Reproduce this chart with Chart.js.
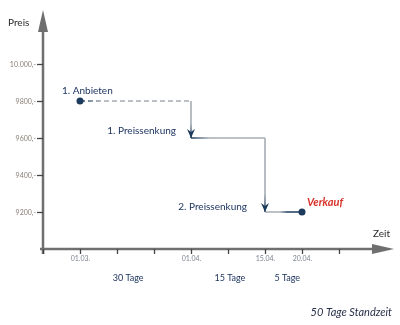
<!DOCTYPE html>
<html>
<head>
<meta charset="utf-8">
<script src="https://cdn.jsdelivr.net/npm/chart.js@4/dist/chart.umd.min.js"></script>
<style>
  html, body { margin: 0; padding: 0; background: #fff; }
  #wrap { width: 400px; height: 325px; }
</style>
</head>
<body>
<div id="wrap"><canvas id="priceChart" width="400" height="325"></canvas></div>
<script>
// Price path: offer, two price cuts, sale
const stepX = [1, 4, 4, 6, 6, 7];
const stepPrice = [9800, 9800, 9600, 9600, 9200, 9200];

const priceTicks = [9200, 9400, 9600, 9800, 10000];
const priceTickLabels = ['9200,-', '9400,-', '9600,-', '9800,-', '10.000,-'];

const timeTicks = [0, 1, 2, 3, 4, 5, 6, 7, 8];
const timeTickLabels = ['', '01.03.', '', '', '01.04.', '', '15.04.', '20.04.', ''];

const spanLabels = ['30 Tage', '15 Tage', '5 Tage'];
const spanPos = [2.3, 5.05, 6.6];

const NAVY = '#1b3a5c';
const GREY = '#a6adb5';
const AXIS = '#6f6f6f';
const FONT = 'Lato, "Open Sans", sans-serif';

// colour fade along each segment: [offset, colour]
const segStops = [
  [[0, NAVY], [0.2, GREY], [1, GREY]],
  [[0, GREY], [0.6, GREY], [1, NAVY]],
  [[0, NAVY], [0.25, GREY], [1, GREY]],
  [[0, GREY], [0.75, GREY], [1, NAVY]],
  [[0, GREY], [0.4, GREY], [0.6, NAVY], [1, NAVY]]
];

const canvas = document.getElementById('priceChart');
const c2d = canvas.getContext('2d');

function segGradient(ctx) {
  const p0 = ctx.p0, p1 = ctx.p1;
  const g = c2d.createLinearGradient(p0.x, p0.y, p1.x, p1.y);
  (segStops[ctx.p0DataIndex] || [[0, GREY], [1, GREY]]).forEach(s => g.addColorStop(s[0], s[1]));
  return g;
}

function downArrow(ctx, x, y) {
  ctx.save();
  ctx.fillStyle = NAVY;
  ctx.beginPath();
  ctx.moveTo(x, y);
  ctx.lineTo(x - 4, y - 9);
  ctx.lineTo(x, y - 6);
  ctx.lineTo(x + 4, y - 9);
  ctx.closePath();
  ctx.fill();
  ctx.restore();
}

const axesPlugin = {
  id: 'axesPlugin',
  beforeDatasetsDraw(chart) {
    const ctx = chart.ctx;
    const xs = chart.scales.x, ys = chart.scales.y;
    const x0 = xs.getPixelForValue(0);
    const y0 = ys.getPixelForValue(9000);
    ctx.save();
    ctx.strokeStyle = AXIS;
    ctx.fillStyle = AXIS;
    ctx.lineWidth = 2.5;
    // vertical axis + arrow
    ctx.beginPath();
    ctx.moveTo(x0, y0 + 5);
    ctx.lineTo(x0, 28);
    ctx.stroke();
    ctx.beginPath();
    ctx.moveTo(x0, 10);
    ctx.lineTo(x0 - 5, 32);
    ctx.lineTo(x0 + 5, 32);
    ctx.closePath();
    ctx.fill();
    // horizontal axis + arrow
    ctx.beginPath();
    ctx.moveTo(x0 - 3, y0);
    ctx.lineTo(376, y0);
    ctx.stroke();
    ctx.beginPath();
    ctx.moveTo(394, y0);
    ctx.lineTo(372, y0 - 5);
    ctx.lineTo(372, y0 + 5);
    ctx.closePath();
    ctx.fill();

    // price ticks
    ctx.lineWidth = 1.3;
    ctx.font = '7px ' + FONT;
    ctx.textAlign = 'right';
    ctx.textBaseline = 'middle';
    priceTicks.forEach((v, i) => {
      const y = Math.round(ys.getPixelForValue(v)) + 0.5;
      ctx.strokeStyle = '#444';
      ctx.beginPath();
      ctx.moveTo(x0 - 6, y);
      ctx.lineTo(x0, y);
      ctx.stroke();
      ctx.fillStyle = '#8a8078';
      ctx.fillText(priceTickLabels[i], x0 - 7, y);
    });

    // time ticks
    ctx.textAlign = 'center';
    timeTicks.forEach((v, i) => {
      const x = Math.round(xs.getPixelForValue(v)) + 0.5;
      ctx.strokeStyle = '#444';
      ctx.beginPath();
      ctx.moveTo(x, y0);
      ctx.lineTo(x, y0 + 5);
      ctx.stroke();
      ctx.fillStyle = '#7d8592';
      ctx.fillText(timeTickLabels[i], x, y0 + 10);
    });

    // axis titles
    ctx.fillStyle = '#2a2a2a';
    ctx.font = '10px ' + FONT;
    ctx.textAlign = 'left';
    ctx.fillText('Preis', 8, 23);
    ctx.fillText('Zeit', 373, 234);

    // durations
    ctx.fillStyle = '#1e3560';
    ctx.font = '9px ' + FONT;
    ctx.textAlign = 'center';
    spanLabels.forEach((t, i) => ctx.fillText(t, xs.getPixelForValue(spanPos[i]), 278));

    ctx.fillStyle = '#27304a';
    ctx.font = 'italic 11px ' + FONT;
    ctx.textAlign = 'right';
    ctx.fillText('50 Tage Standzeit', 392, 312);
    ctx.restore();
  },
  afterDatasetsDraw(chart) {
    const ctx = chart.ctx;
    const pts = chart.getDatasetMeta(0).data;
    // arrow heads at the end of each price cut
    downArrow(ctx, pts[2].x, pts[2].y);
    downArrow(ctx, pts[4].x, pts[4].y);

    ctx.save();
    ctx.textBaseline = 'middle';
    ctx.fillStyle = '#1e3560';
    ctx.font = '10px ' + FONT;
    ctx.textAlign = 'left';
    ctx.fillText('1. Anbieten', pts[0].x - 18, pts[0].y - 10);
    ctx.textAlign = 'right';
    ctx.fillText('1. Preissenkung', pts[2].x - 15, pts[2].y - 7);
    ctx.fillText('2. Preissenkung', pts[4].x - 18, pts[4].y - 5);
    ctx.fillStyle = '#d8342b';
    ctx.font = 'italic bold 11px ' + FONT;
    ctx.textAlign = 'left';
    ctx.fillText('Verkauf', pts[5].x + 5, pts[5].y - 10);
    ctx.restore();
  }
};

new Chart(canvas, {
  type: 'line',
  data: {
    datasets: [{
      data: stepX.map((x, i) => ({ x: x, y: stepPrice[i] })),
      borderWidth: 1.6,
      borderColor: GREY,
      segment: {
        borderColor: segGradient,
        borderDash: ctx => ctx.p0DataIndex === 0 ? [5, 3] : undefined
      },
      pointRadius: ctx => (ctx.dataIndex === 0 || ctx.dataIndex === stepX.length - 1) ? 3.5 : 0,
      pointBackgroundColor: NAVY,
      pointBorderColor: NAVY,
      pointBorderWidth: 0,
      tension: 0,
      clip: false
    }]
  },
  options: {
    responsive: false,
    animation: false,
    events: [],
    layout: { padding: { left: 43, right: 5.5, top: 8.5, bottom: 76 } },
    scales: {
      x: { type: 'linear', min: 0, max: 9.5, display: false },
      y: { type: 'linear', min: 9000, max: 10300, display: false }
    },
    plugins: { legend: { display: false }, tooltip: { enabled: false } }
  },
  plugins: [axesPlugin]
});
</script>
</body>
</html>
